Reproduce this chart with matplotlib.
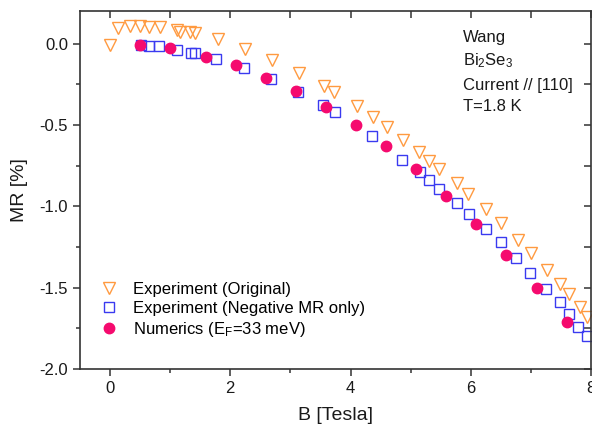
import matplotlib
matplotlib.use("Agg")
import matplotlib.pyplot as plt
from matplotlib.ticker import MultipleLocator

plt.rcParams['font.family'] = ['Liberation Sans', 'DejaVu Sans']
plt.rcParams['mathtext.fontset'] = 'custom'
plt.rcParams['mathtext.rm'] = 'Liberation Sans'
plt.rcParams['mathtext.it'] = 'Liberation Sans'

# Experiment (Original)
b_orig = [0.0, 0.14, 0.33, 0.50, 0.64, 0.83, 1.11, 1.16, 1.33, 1.41, 1.79, 2.24, 2.69,
          3.15, 3.56, 3.73, 4.11, 4.37, 4.61, 4.87, 5.14, 5.30, 5.47, 5.77, 5.95,
          6.26, 6.51, 6.78, 7.01, 7.26, 7.49, 7.64, 7.81, 7.93]
mr_orig = [-0.01, 0.098, 0.11, 0.11, 0.10, 0.10, 0.084, 0.07, 0.07, 0.063, 0.03, -0.035, -0.10,
           -0.18, -0.26, -0.30, -0.385, -0.45, -0.51, -0.59, -0.665, -0.72, -0.77, -0.855, -0.925,
           -1.017, -1.10, -1.21, -1.29, -1.39, -1.475, -1.54, -1.62, -1.68]

# Experiment (Negative MR only)
b_neg = [0.52, 0.64, 0.81, 1.11, 1.35, 1.41, 1.77, 2.23, 2.67, 3.13, 3.54, 3.74,
         4.36, 4.86, 5.15, 5.30, 5.47, 5.77, 5.97, 6.26, 6.51, 6.76, 6.99, 7.25,
         7.48, 7.63, 7.78, 7.93]
mr_neg = [-0.01, -0.018, -0.018, -0.04, -0.06, -0.06, -0.094, -0.15, -0.22, -0.30, -0.38, -0.42,
          -0.57, -0.715, -0.79, -0.84, -0.895, -0.977, -1.05, -1.14, -1.22, -1.32, -1.41, -1.51,
          -1.59, -1.66, -1.74, -1.80]

# Numerics (E_F = 33 meV)
b_num = [0.5, 1.0, 1.59, 2.09, 2.59, 3.1, 3.59, 4.09, 4.59, 5.09, 5.59, 6.08, 6.59, 7.1, 7.6]
mr_num = [-0.008, -0.03, -0.08, -0.13, -0.21, -0.29, -0.39, -0.50, -0.63, -0.77, -0.935,
          -1.11, -1.30, -1.50, -1.71]

fig = plt.figure(figsize=(5.92, 4.32), dpi=100)
ax = fig.add_axes([80 / 592, 63 / 432, 511 / 592, 358 / 432])

ax.plot(b_orig, mr_orig, linestyle='none', marker='v', ms=8.5, mfc='none',
        mec='#FF9A40', mew=1.0, label='Experiment (Original)')
ax.plot(b_neg, mr_neg, linestyle='none', marker='s', ms=6.8, mfc='none',
        mec='#3A3AF0', mew=1.0, label='Experiment (Negative MR only)')
ax.plot(b_num, mr_num, linestyle='none', marker='o', ms=7.5, mfc='#F50A6E',
        mec='#F50A6E', label='Numerics (E$_F$=33 meV)')

ax.set_xlim(-0.5, 8.0)
ax.set_ylim(-2.0, 0.2)
ax.xaxis.set_major_locator(MultipleLocator(2))
ax.xaxis.set_minor_locator(MultipleLocator(1))
ax.yaxis.set_major_locator(MultipleLocator(0.5))
ax.yaxis.set_minor_locator(MultipleLocator(0.25))
ax.yaxis.set_major_formatter(matplotlib.ticker.FormatStrFormatter('%.1f'))

for s in ax.spines.values():
    s.set_color('#333333')
    s.set_linewidth(1.2)
ax.tick_params(which='major', direction='out', length=5, width=1.1, color='#333333',
               labelsize=12, labelcolor='#1a1a1a')
ax.tick_params(which='minor', direction='out', length=3, width=1.1, color='#333333')

secx = ax.secondary_xaxis('top')
secx.set_xticks(range(0, 9))
secx.tick_params(direction='in', length=5, width=1.1, color='#333333', labeltop=False)
secx.spines['top'].set_visible(False)
secy = ax.secondary_yaxis('right')
secy.set_yticks([-2.0 + 0.25 * i for i in range(9)])
secy.tick_params(direction='in', length=5, width=1.1, color='#333333', labelright=False)
secy.spines['right'].set_visible(False)

ax.set_xlabel('B [Tesla]', fontsize=14, color='#1a1a1a', labelpad=8)
ax.set_ylabel('MR [%]', fontsize=14, color='#1a1a1a', labelpad=8)

ax.legend(loc='lower left', bbox_to_anchor=(0.04, 0.085), frameon=False, fontsize=12,
          borderpad=0, borderaxespad=0, handlelength=1.0, handletextpad=0.95,
          labelspacing=0.22)

tx = 0.75
ax.text(tx, 0.927, 'Wang', transform=ax.transAxes, fontsize=12, va='center', color='#1a1a1a')
ax.text(tx, 0.862, 'Bi$_2$Se$_3$', transform=ax.transAxes, fontsize=12, va='center', color='#1a1a1a')
ax.text(tx, 0.793, 'Current // [110]', transform=ax.transAxes, fontsize=12, va='center', color='#1a1a1a')
ax.text(tx, 0.732, 'T=1.8 K', transform=ax.transAxes, fontsize=12, va='center', color='#1a1a1a')

fig.savefig('out.png', dpi=100)
